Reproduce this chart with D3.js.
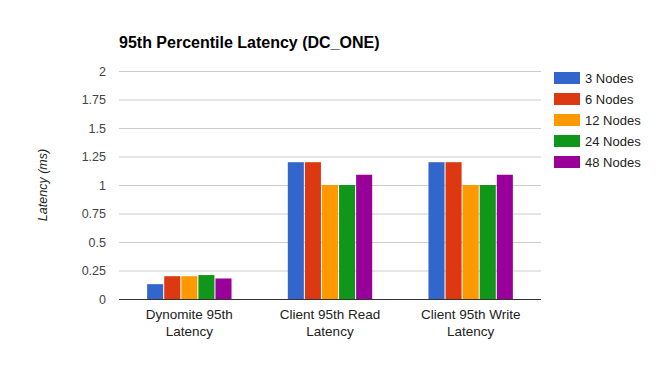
<!DOCTYPE html>
<html>
<head>
<meta charset="utf-8">
<script src="https://cdn.jsdelivr.net/npm/d3@7"></script>
<style>
  html, body { margin: 0; padding: 0; background: #fff; }
  svg { display: block; font-family: Arial, 'Liberation Sans', sans-serif; }
</style>
</head>
<body>
<div id="chart"></div>
<script>
const categories = [['Dynomite 95th', 'Latency'], ['Client 95th Read', 'Latency'], ['Client 95th Write', 'Latency']]
const seriesNames = ['3 Nodes', '6 Nodes', '12 Nodes', '24 Nodes', '48 Nodes']
const seriesColors = ['#3366cc', '#dc3912', '#ff9900', '#109618', '#990099']
const values = [
  [0.13, 1.2, 1.2],
  [0.2, 1.2, 1.2],
  [0.2, 1.0, 1.0],
  [0.21, 1.0, 1.0],
  [0.18, 1.09, 1.09]
]
const yTicks = [0, 0.25, 0.5, 0.75, 1, 1.25, 1.5, 1.75, 2]

const width = 659
const height = 371
const margin = { top: 71, right: 118, bottom: 72, left: 119 }
const innerWidth = width - margin.left - margin.right
const innerHeight = height - margin.top - margin.bottom

const svg = d3.select('#chart')
  .append('svg')
  .attr('width', width)
  .attr('height', height)

svg.append('text')
  .attr('x', margin.left)
  .attr('y', 48)
  .attr('font-size', 16)
  .attr('font-weight', 'bold')
  .attr('fill', '#000')
  .text('95th Percentile Latency (DC_ONE)')

const chart = svg.append('g')
  .attr('transform', `translate(${margin.left},${margin.top})`)

const x0 = d3.scaleBand()
  .domain(d3.range(categories.length))
  .range([0, innerWidth])
  .paddingInner(0.4)
  .paddingOuter(0.2)

const x1 = d3.scaleBand()
  .domain(d3.range(seriesNames.length))
  .range([0, x0.bandwidth()])
  .paddingInner(0.06)

const y = d3.scaleLinear().domain([0, 2]).range([innerHeight, 0])

// gridlines
chart.append('g')
  .selectAll('line')
  .data(yTicks.filter((d) => d !== 0))
  .join('line')
  .attr('x1', 0)
  .attr('x2', innerWidth)
  .attr('y1', (d) => y(d) + 0.5)
  .attr('y2', (d) => y(d) + 0.5)
  .attr('stroke', '#cccccc')
  .attr('stroke-width', 1)

// y tick labels
chart.append('g')
  .selectAll('text')
  .data(yTicks)
  .join('text')
  .attr('x', -13)
  .attr('y', (d) => y(d) + 4.5)
  .attr('text-anchor', 'end')
  .attr('font-size', 12.5)
  .attr('fill', '#444')
  .text((d) => d)

// bars
const groups = chart.append('g')
  .selectAll('g')
  .data(categories.map((c, i) => i))
  .join('g')
  .attr('transform', (i) => `translate(${x0(i)},0)`)

groups.selectAll('rect')
  .data((i) => seriesNames.map((s, j) => ({ j, v: values[j][i] })))
  .join('rect')
  .attr('x', (d) => x1(d.j))
  .attr('y', (d) => y(d.v))
  .attr('width', x1.bandwidth())
  .attr('height', (d) => innerHeight - y(d.v))
  .attr('fill', (d) => seriesColors[d.j])

// baseline
chart.append('line')
  .attr('x1', 0)
  .attr('x2', innerWidth)
  .attr('y1', innerHeight + 0.5)
  .attr('y2', innerHeight + 0.5)
  .attr('stroke', '#333')
  .attr('stroke-width', 1)

// x labels, two lines each
categories.forEach((lines, i) => {
  const cx = x0(i) + x0.bandwidth() / 2
  lines.forEach((line, k) => {
    chart.append('text')
      .attr('x', cx)
      .attr('y', innerHeight + 20 + k * 17)
      .attr('text-anchor', 'middle')
      .attr('font-size', 13.5)
      .attr('fill', '#222')
      .text(line)
  })
})

// y axis title
svg.append('text')
  .attr('transform', `translate(47,${margin.top + innerHeight / 2}) rotate(-90)`)
  .attr('text-anchor', 'middle')
  .attr('font-size', 12.5)
  .attr('font-style', 'italic')
  .attr('fill', '#222')
  .text('Latency (ms)')

// legend
const legend = svg.append('g')
  .attr('transform', 'translate(554,72)')

const items = legend.selectAll('g')
  .data(seriesNames)
  .join('g')
  .attr('transform', (d, i) => `translate(0,${i * 21})`)

items.append('rect')
  .attr('width', 26)
  .attr('height', 12)
  .attr('fill', (d, i) => seriesColors[i])

items.append('text')
  .attr('x', 31)
  .attr('y', 10.5)
  .attr('font-size', 13)
  .attr('fill', '#222')
  .text((d) => d)
</script>
</body>
</html>
